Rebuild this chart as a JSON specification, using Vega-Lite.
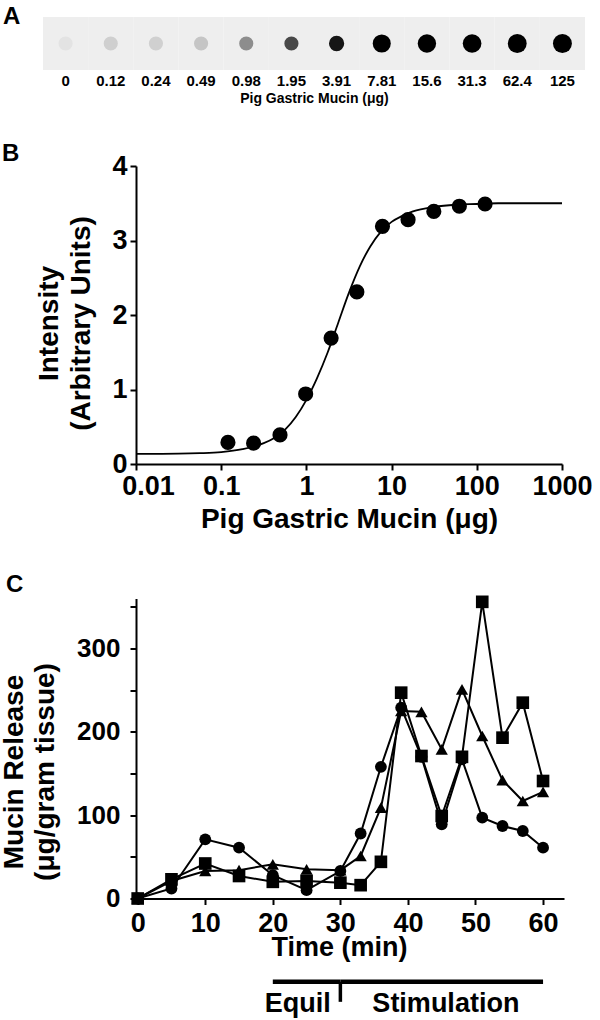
{
  "$schema": "https://vega.github.io/schema/vega-lite/v6.json",
  "padding": {"left": 0, "top": 5, "right": 5, "bottom": 0},
  "background": "#ffffff",
  "spacing": 36,
  "config": {
    "font": "Liberation Sans",
    "view": {"stroke": null},
    "axis": {"labelColor": "#000", "titleColor": "#000", "domainColor": "#000", "tickColor": "#000", "grid": false, "labelFontWeight": "bold", "titleFontWeight": "bold", "labelFont": "Liberation Sans", "titleFont": "Liberation Sans"},
    "title": {"color": "#000", "fontWeight": "bold", "anchor": "start", "frame": "group", "font": "Liberation Sans"}
  },
  "datasets": {
    "standards": [
      {"label": "0", "amount": 0, "intensity": 0.1},
      {"label": "0.12", "amount": 0.12, "intensity": 0.29},
      {"label": "0.24", "amount": 0.24, "intensity": 0.28},
      {"label": "0.49", "amount": 0.49, "intensity": 0.39},
      {"label": "0.98", "amount": 0.98, "intensity": 0.94},
      {"label": "1.95", "amount": 1.95, "intensity": 1.69},
      {"label": "3.91", "amount": 3.91, "intensity": 2.31},
      {"label": "7.81", "amount": 7.81, "intensity": 3.19},
      {"label": "15.6", "amount": 15.6, "intensity": 3.28},
      {"label": "31.3", "amount": 31.3, "intensity": 3.39},
      {"label": "62.4", "amount": 62.4, "intensity": 3.46},
      {"label": "125", "amount": 125, "intensity": 3.49}
    ],
    "curve": [
      {"amount": 0.01, "intensity": 0.135},
      {"amount": 0.0178, "intensity": 0.136},
      {"amount": 0.0316, "intensity": 0.138},
      {"amount": 0.0562, "intensity": 0.145},
      {"amount": 0.1, "intensity": 0.16},
      {"amount": 0.178, "intensity": 0.2},
      {"amount": 0.316, "intensity": 0.28},
      {"amount": 0.42, "intensity": 0.35},
      {"amount": 0.562, "intensity": 0.46},
      {"amount": 0.75, "intensity": 0.63},
      {"amount": 1, "intensity": 0.86},
      {"amount": 1.33, "intensity": 1.15},
      {"amount": 1.78, "intensity": 1.5},
      {"amount": 2.37, "intensity": 1.9},
      {"amount": 3.16, "intensity": 2.3},
      {"amount": 4.22, "intensity": 2.65},
      {"amount": 5.62, "intensity": 2.92},
      {"amount": 7.5, "intensity": 3.12},
      {"amount": 10, "intensity": 3.25},
      {"amount": 13.3, "intensity": 3.33},
      {"amount": 17.8, "intensity": 3.39},
      {"amount": 31.6, "intensity": 3.45},
      {"amount": 56.2, "intensity": 3.48},
      {"amount": 100, "intensity": 3.49},
      {"amount": 178, "intensity": 3.5},
      {"amount": 316, "intensity": 3.5},
      {"amount": 1000, "intensity": 3.5}
    ],
    "release": [
      {"series": "S1", "time": 0, "release": 0},
      {"series": "S1", "time": 5, "release": 12},
      {"series": "S1", "time": 10, "release": 71},
      {"series": "S1", "time": 15, "release": 61},
      {"series": "S1", "time": 20, "release": 28},
      {"series": "S1", "time": 25, "release": 10},
      {"series": "S1", "time": 30, "release": 33},
      {"series": "S1", "time": 33, "release": 78},
      {"series": "S1", "time": 36, "release": 158},
      {"series": "S1", "time": 39, "release": 229},
      {"series": "S1", "time": 42, "release": 170},
      {"series": "S1", "time": 45, "release": 89},
      {"series": "S1", "time": 48, "release": 167},
      {"series": "S1", "time": 51, "release": 97},
      {"series": "S1", "time": 54, "release": 87},
      {"series": "S1", "time": 57, "release": 81},
      {"series": "S1", "time": 60, "release": 61},
      {"series": "S2", "time": 0, "release": 0},
      {"series": "S2", "time": 5, "release": 21},
      {"series": "S2", "time": 10, "release": 33},
      {"series": "S2", "time": 15, "release": 34},
      {"series": "S2", "time": 20, "release": 41},
      {"series": "S2", "time": 25, "release": 35},
      {"series": "S2", "time": 30, "release": 34},
      {"series": "S2", "time": 33, "release": 51},
      {"series": "S2", "time": 36, "release": 109},
      {"series": "S2", "time": 39, "release": 225},
      {"series": "S2", "time": 42, "release": 224},
      {"series": "S2", "time": 45, "release": 179},
      {"series": "S2", "time": 48, "release": 251},
      {"series": "S2", "time": 51, "release": 195},
      {"series": "S2", "time": 54, "release": 142},
      {"series": "S2", "time": 57, "release": 117},
      {"series": "S2", "time": 60, "release": 128},
      {"series": "S3", "time": 0, "release": 0},
      {"series": "S3", "time": 5, "release": 23},
      {"series": "S3", "time": 10, "release": 42},
      {"series": "S3", "time": 15, "release": 27},
      {"series": "S3", "time": 20, "release": 20},
      {"series": "S3", "time": 25, "release": 21},
      {"series": "S3", "time": 30, "release": 19},
      {"series": "S3", "time": 33, "release": 16},
      {"series": "S3", "time": 36, "release": 44},
      {"series": "S3", "time": 39, "release": 247},
      {"series": "S3", "time": 42, "release": 171},
      {"series": "S3", "time": 45, "release": 99},
      {"series": "S3", "time": 48, "release": 170},
      {"series": "S3", "time": 51, "release": 356},
      {"series": "S3", "time": 54, "release": 193},
      {"series": "S3", "time": 57, "release": 235},
      {"series": "S3", "time": 60, "release": 141}
    ],
    "phases": [
      {"phase": "Equil", "start": 20, "end": 30},
      {"phase": "Stimulation", "start": 30, "end": 60}
    ]
  },
  "vconcat": [
    {
      "width": 449,
      "height": 53,
      "title": {"text": "A", "fontSize": 24, "dx": -133, "offset": -12},
      "data": {"name": "standards"},
      "encoding": {
        "x": {
          "field": "label", "type": "nominal", "sort": null,
          "scale": {"type": "band", "range": [-93, 449], "paddingInner": 0, "paddingOuter": 0},
          "axis": {"title": "Pig Gastric Mucin (μg)", "labelAngle": 0, "domain": false, "ticks": false, "labelFontSize": 15, "labelPadding": 3, "titleFontSize": 14, "titlePadding": 3}
        }
      },
      "layer": [
        {"mark": {"type": "rect", "fill": "#eeeeee"}},
        {
          "mark": {"type": "circle", "opacity": 1},
          "encoding": {
            "color": {"field": "intensity", "type": "quantitative", "scale": {"domain": [0, 2.5], "range": ["#eeeeee", "#000000"], "clamp": true}, "legend": null},
            "size": {"field": "intensity", "type": "quantitative", "scale": {"domain": [2, 3.5], "range": [200, 360], "clamp": true}, "legend": null}
          }
        }
      ]
    },
    {
      "spacing": 39.5,
      "vconcat": [
        {
          "width": 426,
          "height": 298,
          "title": {"text": "B", "fontSize": 24, "dx": -134, "offset": -13.5},
          "encoding": {
            "x": {
              "field": "amount", "type": "quantitative",
              "scale": {"type": "log", "domain": [0.01, 1000], "nice": false},
              "axis": {"title": "Pig Gastric Mucin (μg)", "values": [0.01, 0.1, 1, 10, 100, 1000], "format": "~g", "labelFlush": false, "labelOffset": {"condition": {"test": "datum.value < 0.05", "value": 12}, "value": 0}, "labelFontSize": 27, "titleFontSize": 28, "tickSize": 6, "tickWidth": 2, "domainWidth": 2, "labelPadding": 3, "titlePadding": 6}
            },
            "y": {
              "field": "intensity", "type": "quantitative",
              "scale": {"domain": [0, 4], "nice": false},
              "axis": {"title": ["Intensity", "(Arbitrary Units)"], "values": [0, 1, 2, 3, 4], "labelFontSize": 27, "titleFontSize": 28, "titleLineHeight": 32, "tickSize": 6, "tickWidth": 2, "domainWidth": 2, "labelPadding": 3, "titlePadding": 16, "titleY": 157}
            }
          },
          "layer": [
            {"data": {"name": "curve"}, "mark": {"type": "line", "color": "#000", "strokeWidth": 1.8, "interpolate": "monotone"}},
            {"data": {"name": "standards"}, "transform": [{"filter": "datum.amount > 0"}], "mark": {"type": "circle", "color": "#000", "opacity": 1, "size": 230}}
          ]
        },
        {
          "width": 428,
          "height": 300,
          "title": {"text": "C", "fontSize": 24, "dx": -130, "offset": -3},
          "layer": [
            {
              "data": {"name": "release"},
              "mark": {"type": "line", "color": "#000", "strokeWidth": 2},
              "encoding": {
                "x": {
                  "field": "time", "type": "quantitative",
                  "scale": {"domain": [-0.25, 63.1], "nice": false, "zero": false},
                  "axis": {"title": "Time (min)", "values": [0, 5, 10, 15, 20, 25, 30, 35, 40, 45, 50, 55, 60], "labelExpr": "datum.value % 10 === 0 ? datum.label : ''", "labelOverlap": false, "labelFlush": false, "labelFontSize": 27, "titleFontSize": 27, "tickSize": 6, "tickWidth": 2, "domainWidth": 2, "labelPadding": 6, "titlePadding": -2, "titleX": 203}
                },
                "y": {
                  "field": "release", "type": "quantitative",
                  "scale": {"domain": [0, 360], "nice": false},
                  "axis": {"title": ["Mucin Release", "(μg/gram tissue)"], "values": [0, 25, 50, 75, 100, 125, 150, 175, 200, 225, 250, 275, 300, 325, 350], "labelExpr": "datum.value % 100 === 0 ? datum.label : ''", "labelOverlap": false, "labelFontSize": 26, "titleFontSize": 28, "titleLineHeight": 31, "tickSize": 6, "tickWidth": 2, "domainWidth": 2, "labelPadding": 10, "titlePadding": 17, "titleY": 173}
                },
                "detail": {"field": "series"}
              }
            },
            {
              "data": {"name": "release"},
              "mark": {"type": "point", "filled": true, "color": "#000", "opacity": 1},
              "encoding": {
                "x": {"field": "time", "type": "quantitative"},
                "y": {"field": "release", "type": "quantitative"},
                "shape": {"field": "series", "type": "nominal", "scale": {"domain": ["S1", "S2", "S3"], "range": ["circle", "triangle-up", "square"]}, "legend": null},
                "size": {"field": "series", "type": "ordinal", "scale": {"domain": ["S1", "S2", "S3"], "range": [140, 160, 140]}, "legend": null}
              }
            },
            {
              "data": {"name": "phases"},
              "mark": {"type": "rule", "color": "#000", "strokeWidth": 4.5},
              "encoding": {
                "x": {"field": "start", "type": "quantitative"},
                "x2": {"field": "end"},
                "y": {"datum": -100}
              }
            },
            {
              "data": {"name": "phases"},
              "transform": [{"filter": "datum.phase === 'Stimulation'"}],
              "mark": {"type": "rule", "color": "#000", "strokeWidth": 3.5},
              "encoding": {
                "x": {"field": "start", "type": "quantitative"},
                "y": {"datum": -100},
                "y2": {"datum": -124}
              }
            },
            {
              "data": {"name": "phases"},
              "transform": [{"filter": "datum.phase === 'Equil'"}],
              "mark": {"type": "text", "align": "left", "baseline": "middle", "dx": -8, "fontSize": 27, "fontWeight": "bold", "color": "#000"},
              "encoding": {
                "x": {"field": "start", "type": "quantitative"},
                "y": {"datum": -127},
                "text": {"field": "phase"}
              }
            },
            {
              "data": {"name": "phases"},
              "transform": [{"filter": "datum.phase === 'Stimulation'"}],
              "mark": {"type": "text", "align": "left", "baseline": "middle", "dx": 32, "fontSize": 27, "fontWeight": "bold", "color": "#000"},
              "encoding": {
                "x": {"field": "start", "type": "quantitative"},
                "y": {"datum": -127},
                "text": {"field": "phase"}
              }
            }
          ]
        }
      ]
    }
  ]
}
